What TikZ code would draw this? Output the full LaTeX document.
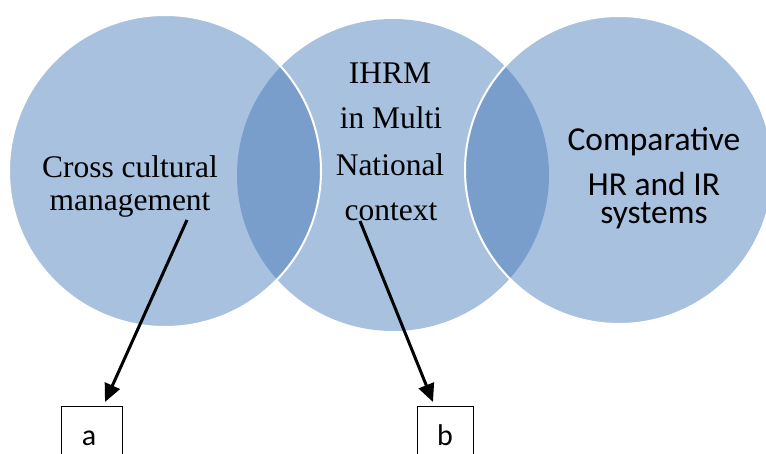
\documentclass[tikz,border=0pt]{standalone}
\usepackage{fontspec}
\setmainfont{Liberation Serif}
\newfontfamily\calibri{Carlito}
\usetikzlibrary{arrows.meta}
\definecolor{lightb}{RGB}{168,193,223}
\definecolor{darkb}{RGB}{122,158,204}
\tikzset{
  serlab/.style={anchor=base, inner sep=0pt, font=\fontsize{31.5}{36}\selectfont},
  sanlab/.style={anchor=base, inner sep=0pt, font=\calibri\fontsize{33.5}{38}\selectfont},
  boxlab/.style={anchor=base, inner sep=0pt, font=\calibri\fontsize{30}{34}\selectfont},
  openbox/.style={draw=black, line width=1pt, minimum width=#1, minimum height=80pt, anchor=north, inner sep=0pt},
  arr/.style={line width=3pt, -{Triangle[length=18pt,width=16pt]}},
  ring/.style={draw=white, line width=2pt}
}
\begin{document}
\begin{tikzpicture}[x=1pt,y=-1pt]
\useasboundingbox (0,0) rectangle (766,453);
\clip (0,0) rectangle (766,453);
\coordinate (L) at (165,171);
\coordinate (M) at (393,175);
\coordinate (R) at (619,170);
% circles
\fill[lightb] (M) circle (156);
\fill[lightb] (L) circle (156);
\fill[lightb] (R) circle (154);
% lenses
\begin{scope}
  \clip (L) circle (156);
  \fill[darkb] (M) circle (156);
\end{scope}
\begin{scope}
  \clip (R) circle (154);
  \fill[darkb] (M) circle (156);
\end{scope}
% white outlines
\draw[ring] (L) circle (156);
\draw[ring] (R) circle (154);
% texts
\node[serlab] (l1) at (130,177) {Cross cultural};
\node[serlab] (l2) at (130,210) {management};
\node[serlab] (m1) at (390,83) {IHRM};
\node[serlab] (m2) at (391,128) {in Multi};
\node[serlab] (m3) at (390,175) {National};
\node[serlab] (m4) at (391,220) {context};
\node[sanlab] (r1) at (654,150) {Comparative};
\node[sanlab] (r2) at (654,195) {HR and IR};
\node[sanlab] (r3) at (654,223) {systems};
% boxes
\node[openbox=61pt] (ba) at (91.5,406) {};
\node[openbox=56pt] (bb) at (445,406) {};
\node[boxlab] (la) at (89,445) {a};
\node[boxlab] (lb) at (445,445) {b};
% arrows
\coordinate (sa) at (187,220);
\coordinate (ta) at (105,402);
\coordinate (sb) at (360,221);
\coordinate (tb) at (433,402);
\draw[arr] (sa) -- (ta);
\draw[arr] (sb) -- (tb);
\end{tikzpicture}
\end{document}
